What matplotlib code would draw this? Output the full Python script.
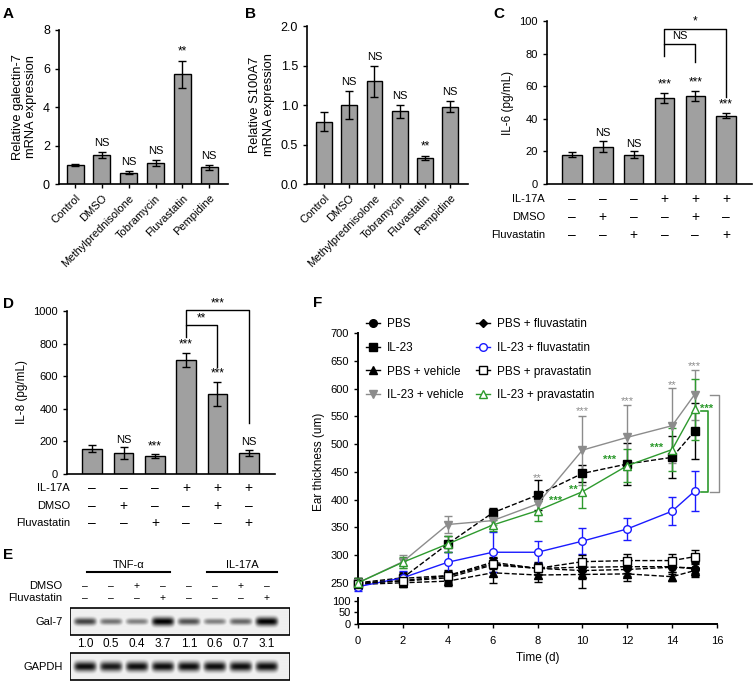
import numpy as np
import matplotlib
matplotlib.use('Agg')
import matplotlib.pyplot as plt
from matplotlib.transforms import blended_transform_factory as btf
from matplotlib.lines import Line2D
from matplotlib.patches import Rectangle

plt.rcParams['font.family'] = ['Liberation Sans', 'DejaVu Sans']
plt.rcParams['font.size'] = 8

# ---------------- data ----------------
drug_cats = ['Control', 'DMSO', 'Methylprednisolone', 'Tobramycin', 'Fluvastatin', 'Pempidine']
galectin7 = [1.0, 1.5, 0.58, 1.08, 5.7, 0.88]
galectin7_err = [0.05, 0.15, 0.08, 0.15, 0.7, 0.13]
galectin7_sig = ['', 'NS', 'NS', 'NS', '**', 'NS']

s100a7 = [0.79, 1.0, 1.3, 0.92, 0.33, 0.98]
s100a7_err = [0.12, 0.18, 0.2, 0.08, 0.02, 0.07]
s100a7_sig = ['', 'NS', 'NS', 'NS', '**', 'NS']

il6 = [18, 23, 18, 53, 54, 42]
il6_err = [1.5, 3.5, 2, 3, 3, 1.5]
il6_sig = ['', 'NS', 'NS', '***', '***', '***']

il8 = [155, 130, 108, 700, 490, 130]
il8_err = [20, 35, 12, 45, 75, 20]
il8_sig = ['', 'NS', '***', '***', '***', 'NS']

treat_rows = ['IL-17A', 'DMSO', 'Fluvastatin']
treat_signs = [['-', '-', '-', '+', '+', '+'],
               ['-', '+', '-', '-', '+', '-'],
               ['-', '-', '+', '-', '-', '+']]

blot_dmso = ['-', '-', '+', '-', '-', '-', '+', '-']
blot_fluva = ['-', '-', '-', '+', '-', '-', '-', '+']
gal7_ratio = [1.0, 0.5, 0.4, 3.7, 1.1, 0.6, 0.7, 3.1]
gal7_band = [0.74, 0.55, 0.5, 1.0, 0.68, 0.5, 0.6, 1.0]
gapdh_band = [0.95, 0.9, 0.95, 0.95, 0.95, 0.95, 0.95, 0.95]

days = [0, 2, 4, 6, 8, 10, 12, 14, 15]
pbs = [247, 258, 263, 287, 276, 278, 279, 279, 275]
pbs_err = [8, 10, 10, 10, 12, 12, 12, 10, 12]
il23 = [250, 259, 320, 376, 408, 447, 464, 476, 523]
il23_err = [8, 10, 15, 8, 27, 15, 38, 38, 50]
pbs_veh = [247, 250, 253, 268, 264, 265, 266, 261, 272]
pbs_veh_err = [8, 8, 8, 18, 12, 25, 12, 8, 12]
il23_veh = [250, 288, 355, 362, 392, 489, 512, 533, 589]
il23_veh_err = [8, 12, 15, 8, 20, 62, 58, 68, 45]
pbs_flu = [250, 253, 259, 282, 276, 272, 274, 278, 277]
pbs_flu_err = [8, 8, 10, 12, 10, 15, 12, 12, 10]
il23_flu = [243, 259, 287, 305, 305, 325, 347, 379, 415]
il23_flu_err = [8, 12, 18, 36, 20, 23, 20, 25, 36]
pbs_pra = [248, 254, 262, 284, 276, 288, 290, 290, 297]
pbs_pra_err = [8, 10, 10, 10, 10, 12, 12, 12, 12]
il23_pra = [250, 287, 320, 354, 380, 414, 461, 490, 563]
il23_pra_err = [8, 10, 15, 10, 18, 30, 30, 38, 55]

gray_star_x = [8, 10, 12, 14, 15]
gray_star_y = [438, 559, 577, 606, 640]
gray_star_t = ['**', '***', '***', '**', '***']
green_star_x = [8.8, 9.6, 11.2, 13.3, 15.55]
green_star_y = [397, 417, 472, 493, 564]
green_star_t = ['***', '**', '***', '***', '***']

# ---------------- figure ----------------
W, H = 756, 685
fig = plt.figure(figsize=(W / 100, H / 100), dpi=100)


def rect(l, t, r, b):
    return [l / W, 1 - b / H, (r - l) / W, (b - t) / H]


def fx(x):
    return x / W


def fy(y):
    return 1 - y / H


BAR_C = '#a0a0a0'
STAR = 8.5


def style(ax, ysize=8):
    for s in ['top', 'right']:
        ax.spines[s].set_visible(False)
    for s in ['left', 'bottom']:
        ax.spines[s].set_linewidth(1.2)
    ax.tick_params(direction='out', length=3, width=1, labelsize=8)
    ax.tick_params(axis='y', labelsize=ysize)


def bars(ax, vals, errs, sig, pad, ysize=8):
    x = np.arange(len(vals))
    ax.bar(x, vals, width=0.63, color=BAR_C, edgecolor='black', linewidth=1, zorder=2)
    ax.errorbar(x, vals, yerr=errs, fmt='none', ecolor='black', elinewidth=1,
                capsize=3, capthick=1, zorder=3)
    for xi, v, e, s in zip(x, vals, errs, sig):
        if s:
            ax.text(xi, v + e + pad, s, ha='center', va='bottom',
                    fontsize=8 if s == 'NS' else STAR)
    style(ax, ysize)


# Panel A
axA = fig.add_axes(rect(59, 30, 228, 184))
bars(axA, galectin7, galectin7_err, galectin7_sig, 0.2, ysize=9)
axA.set_xlim(-0.6, 5.7)
axA.set_ylim(0, 8)
axA.set_yticks([0, 2, 4, 6, 8])
axA.set_xticks(range(6))
axA.set_xticklabels(drug_cats, rotation=45, ha='right', rotation_mode='anchor')
axA.set_ylabel('Relative galectin-7\nmRNA expression', fontsize=9.3, labelpad=4)

# Panel B
axB = fig.add_axes(rect(307, 26, 468, 184))
bars(axB, s100a7, s100a7_err, s100a7_sig, 0.05, ysize=9)
axB.set_xlim(-0.67, 5.7)
axB.set_ylim(0, 2.0)
axB.set_yticks([0, 0.5, 1.0, 1.5, 2.0])
axB.set_yticklabels(['0.0', '0.5', '1.0', '1.5', '2.0'])
axB.set_xticks(range(6))
axB.set_xticklabels(drug_cats, rotation=45, ha='right', rotation_mode='anchor')
axB.set_ylabel('Relative S100A7\nmRNA expression', fontsize=9.3, labelpad=4)


def sign_rows(ax, label_x, rows_y):
    tr = btf(ax.transData, fig.transFigure)
    for name, signs, ry in zip(treat_rows, treat_signs, rows_y):
        fig.text(fx(label_x), fy(ry), name, ha='right', va='center', fontsize=8)
        for i, s in enumerate(signs):
            ax.text(i, fy(ry), '+' if s == '+' else '\u2013', transform=tr,
                    ha='center', va='center', fontsize=10)


# Panel C
axC = fig.add_axes(rect(547, 21, 752, 184))
bars(axC, il6, il6_err, il6_sig, 1.5)
axC.set_xlim(-0.81, 5.84)
axC.set_ylim(0, 100)
axC.set_yticks([0, 20, 40, 60, 80, 100])
axC.set_xticks([])
axC.set_ylabel('IL-6 (pg/mL)', fontsize=8.5, labelpad=4)
sign_rows(axC, 545, [199, 217, 235])
axC.plot([3, 3, 4, 4], [78.5, 86, 86, 75], color='black', lw=1, clip_on=False)
axC.plot([3, 3, 5, 5], [86, 95, 95, 53.5], color='black', lw=1, clip_on=False)
axC.text(3.5, 87.5, 'NS', ha='center', va='bottom', fontsize=8)
axC.text(4, 96, '*', ha='center', va='bottom', fontsize=STAR, clip_on=False)

# Panel D
axD = fig.add_axes(rect(67, 311, 275, 474))
bars(axD, il8, il8_err, il8_sig, 15)
axD.set_xlim(-0.81, 5.84)
axD.set_ylim(0, 1000)
axD.set_yticks([0, 200, 400, 600, 800, 1000])
axD.set_xticks([])
axD.set_ylabel('IL-8 (pg/mL)', fontsize=8.5, labelpad=4)
sign_rows(axD, 70, [488, 506, 523])
axD.plot([3, 3, 4, 4], [840, 914, 914, 656], color='black', lw=1, clip_on=False)
axD.plot([3, 3, 5, 5], [914, 1005, 1005, 313], color='black', lw=1, clip_on=False)
axD.text(3.5, 918, '**', ha='center', va='bottom', fontsize=STAR)
axD.text(4, 1009, '***', ha='center', va='bottom', fontsize=STAR, clip_on=False)

# Panel E (western blot)
axE = fig.add_axes(rect(70, 550, 290, 685))
x0, x1 = -0.577, 7.885
axE.set_xlim(x0, x1)
axE.set_ylim(685, 550)
axE.axis('off')
lanes = np.arange(8)


def blot(top, bot, dark, center, thick):
    xs = np.linspace(x0, x1, 440)
    ys = np.linspace(top, bot, 60)
    X, Y = np.meshgrid(xs, ys)
    img = np.full(X.shape, 0.06)
    for ln, d, t in zip(lanes, dark, thick):
        px = np.exp(-((X - ln) / 0.43) ** 6)
        py = np.exp(-((Y - center) / t) ** 2)
        img = np.maximum(img, d * px * py)
    axE.imshow(img, extent=(x0, x1, bot, top), cmap='gray_r', vmin=0, vmax=1,
               aspect='auto', interpolation='bilinear', zorder=1)
    axE.add_patch(Rectangle((x0, top), x1 - x0, bot - top, fill=False,
                            edgecolor='black', lw=1.2, zorder=2))


blot(608, 635, gal7_band, 621.5, [3.2 + 2.5 * (d - 0.5) for d in gal7_band])
blot(653, 680, gapdh_band, 666.5, [5.0] * 8)
axE.set_xlim(x0, x1)
axE.set_ylim(685, 550)
for ln, r in zip(lanes, gal7_ratio):
    axE.text(ln, 644, f'{r:.1f}', ha='center', va='center', fontsize=8.5)
for ln, s in zip(lanes, blot_dmso):
    axE.text(ln, 586, '+' if s == '+' else '\u2013', ha='center', va='center', fontsize=7.5)
for ln, s in zip(lanes, blot_fluva):
    axE.text(ln, 598, '+' if s == '+' else '\u2013', ha='center', va='center', fontsize=7.5)
axE.plot([0.08, 3.27], [572, 572], color='black', lw=1.5, clip_on=False)
axE.plot([4.69, 7.38], [572, 572], color='black', lw=1.5, clip_on=False)
axE.text((0.08 + 3.27) / 2, 565, 'TNF-\u03b1', ha='center', va='center', fontsize=8)
axE.text((4.69 + 7.38) / 2, 565, 'IL-17A', ha='center', va='center', fontsize=8)
fig.text(fx(62), fy(586), 'DMSO', ha='right', va='center', fontsize=8)
fig.text(fx(62), fy(598), 'Fluvastatin', ha='right', va='center', fontsize=8)
fig.text(fx(63), fy(622), 'Gal-7', ha='right', va='center', fontsize=8)
fig.text(fx(63), fy(667), 'GAPDH', ha='right', va='center', fontsize=8)

# Panel F
axF = fig.add_axes(rect(358, 333, 717, 590))
axF2 = fig.add_axes(rect(358, 598, 717, 624))
GRAY = '#8c8c8c'
BLUE = '#1a1aff'
GREEN = '#2e9a2e'
series = [
    ('PBS', pbs, pbs_err, 'o', 'black', 'black', '--'),
    ('IL-23', il23, il23_err, 's', 'black', 'black', '--'),
    ('PBS + vehicle', pbs_veh, pbs_veh_err, '^', 'black', 'black', '--'),
    ('IL-23 + vehicle', il23_veh, il23_veh_err, 'v', GRAY, GRAY, '-'),
    ('PBS + fluvastatin', pbs_flu, pbs_flu_err, 'D', 'black', 'black', '--'),
    ('IL-23 + fluvastatin', il23_flu, il23_flu_err, 'o', BLUE, 'white', '-'),
    ('PBS + pravastatin', pbs_pra, pbs_pra_err, 's', 'black', 'white', '--'),
    ('IL-23 + pravastatin', il23_pra, il23_pra_err, '^', GREEN, 'white', '-'),
]
handles = []
for name, v, e, m, c, fc, ls in series:
    ms = 4 if m == 'D' else 5.5
    axF.errorbar(days, v, yerr=e, color=c, ecolor=c, elinewidth=1, capsize=3,
                 capthick=1, ls=ls, lw=1, marker=m, ms=ms, mfc=fc, mec=c,
                 mew=1, clip_on=False, zorder=3)
    handles.append(Line2D([], [], color=c, ls='-', lw=1, marker=m, ms=ms,
                          mfc=fc, mec=c, mew=1, label=name))
axF.set_xlim(0, 16)
axF.set_ylim(237, 700)
axF.set_yticks(range(250, 701, 50))
axF.set_xticks([])
for s in ['top', 'right', 'bottom']:
    axF.spines[s].set_visible(False)
axF.spines['left'].set_linewidth(1.4)
axF.tick_params(direction='out', length=3, width=1, labelsize=8)
axF.set_ylabel('Ear thickness (um)', fontsize=8.5, labelpad=4)

axF2.set_xlim(0, 16)
axF2.set_ylim(0, 113)
axF2.set_yticks([0, 50, 100])
axF2.set_xticks(range(0, 17, 2))
for s in ['top', 'right']:
    axF2.spines[s].set_visible(False)
for s in ['left', 'bottom']:
    axF2.spines[s].set_linewidth(1.4)
axF2.tick_params(direction='out', length=3, width=1, labelsize=8, pad=2)
axF2.tick_params(axis='x', pad=6)
axF2.set_xlabel('Time (d)', fontsize=8.5, labelpad=4)

for x, y, t in zip(gray_star_x, gray_star_y, gray_star_t):
    axF.text(x, y, t, color=GRAY, ha='center', va='center', fontsize=8)
for x, y, t in zip(green_star_x, green_star_y, green_star_t):
    axF.text(x, y, t, color=GREEN, ha='center', va='center', fontsize=8,
             fontweight='bold', clip_on=False)
axF.plot([15.7, 16.07, 16.07, 15.7], [589, 589, 414, 414], color=GRAY, lw=1, clip_on=False)
axF.plot([15.3, 15.6, 15.6, 15.3], [560, 560, 414, 414], color=GREEN, lw=1.2, clip_on=False)

axF.legend(handles=handles, ncol=2, loc='upper left',
           bbox_to_anchor=(fx(366), fy(318)), bbox_transform=fig.transFigure,
           frameon=False, fontsize=8.5, handlelength=1.2, handletextpad=0.6,
           labelspacing=1.0, columnspacing=1.0, borderpad=0, borderaxespad=0)

# panel labels
for lab, x, y in [('A', 3, 7), ('B', 245, 7), ('C', 493, 7), ('D', 3, 297),
                  ('E', 3, 548), ('F', 313, 296)]:
    fig.text(fx(x), fy(y), lab, fontsize=11, fontweight='bold', ha='left', va='top')

fig.savefig('out.png', dpi=100)
